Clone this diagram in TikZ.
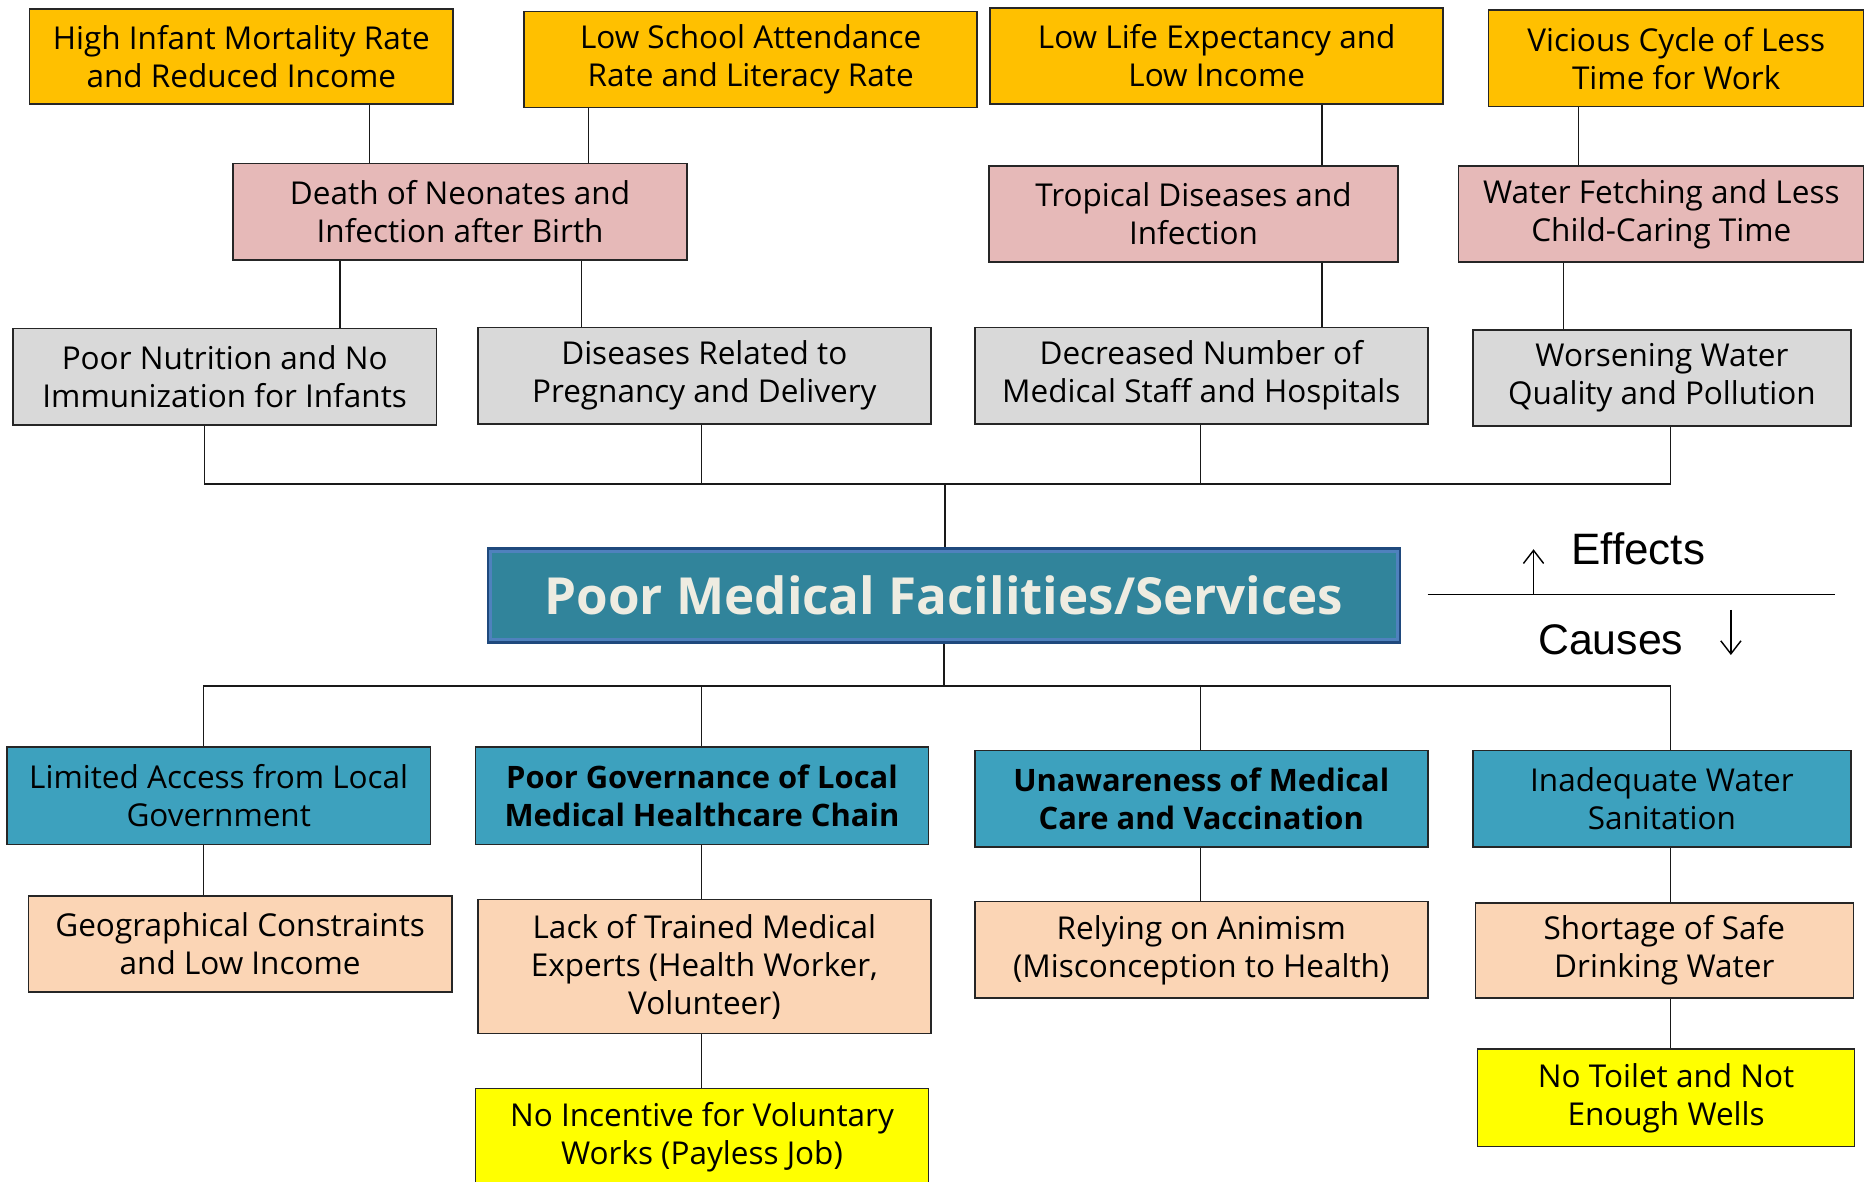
\documentclass[tikz,border=0pt]{standalone}
\usepackage{fontspec}
\setmainfont{Open Sans}
\newfontfamily\legendfont{Liberation Sans}
\usetikzlibrary{arrows.meta}
\definecolor{effOrange}{HTML}{FFC000}
\definecolor{effPink}{HTML}{E6B9B8}
\definecolor{effGray}{HTML}{D9D9D9}
\definecolor{causeBlue}{HTML}{3DA1BE}
\definecolor{causePeach}{HTML}{FBD5B5}
\definecolor{causeYellow}{HTML}{FFFF00}
\definecolor{titleTeal}{HTML}{31849B}
\definecolor{titleEdge}{HTML}{1F497D}
\definecolor{titleInner}{HTML}{4F81BD}
\definecolor{titleText}{HTML}{EEECE1}
\tikzset{
  box/.style={draw=black!85, line width=1.3pt, align=center, inner sep=0pt,
    font=\fontsize{26.5}{32}\selectfont},
  boxsize/.style 2 args={minimum width=#1pt, minimum height=#2pt},
  orangebox/.style={box, fill=effOrange},
  pinkbox/.style={box, fill=effPink},
  graybox/.style={box, fill=effGray},
  bluebox/.style={box, fill=causeBlue},
  peachbox/.style={box, fill=causePeach},
  yellowbox/.style={box, fill=causeYellow},
  link/.style={line width=1.2pt, black!90},
  legendarrow/.style={line width=1.2pt, -{Straight Barb[length=11pt, width=17pt]}},
}

\begin{document}
\begin{tikzpicture}[x=1pt, y=-1pt]
  %%%%% START %%%%%
  \useasboundingbox (0,0) rectangle (1568,994);

  % effects, top row
  \node[orangebox, boxsize={356}{80}] (A1) at (203,47.5) {High Infant Mortality Rate\\and Reduced Income};
  \node[orangebox, boxsize={381}{81}] (A2) at (631.5,50) {Low School Attendance\\Rate and Literacy Rate};
  \node[orangebox, boxsize={381}{81}] (A3) at (1023.5,47) {Low Life Expectancy and\\Low Income};
  \node[orangebox, boxsize={316}{81}] (A4) at (1410,49) {Vicious Cycle of Less\\Time for Work};

  \node[pinkbox, boxsize={382}{81}] (B1) at (387,178) {Death of Neonates and\\Infection after Birth};
  \node[pinkbox, boxsize={344}{81}] (B3) at (1004,180) {Tropical Diseases and\\Infection};
  \node[pinkbox, boxsize={341}{81}] (B4) at (1397.5,180) {Water Fetching and Less\\Child-Caring Time};

  \node[graybox, boxsize={356}{81}] (C1) at (189,317) {Poor Nutrition and No\\Immunization for Infants};
  \node[graybox, boxsize={381}{81}] (C2) at (592.5,316) {Diseases Related to\\Pregnancy and Delivery};
  \node[graybox, boxsize={381}{81}] (C3) at (1010.5,316) {Decreased Number of\\Medical Staff and Hospitals};
  \node[graybox, boxsize={318}{81}] (C4) at (1398,318) {Worsening Water\\Quality and Pollution};

  \draw[link] (311,0 |- A1.south) -- (311,0 |- B1.north);
  \draw[link] (495,0 |- A2.south) -- (495,0 |- B1.north);
  \draw[link] (286,0 |- B1.south) -- (286,0 |- C1.north);
  \draw[link] (489,0 |- B1.south) -- (489,0 |- C2.north);
  \draw[link] (1112,0 |- A3.south) -- (1112,0 |- B3.north);
  \draw[link] (1112,0 |- B3.south) -- (1112,0 |- C3.north);
  \draw[link] (1328,0 |- A4.south) -- (1328,0 |- B4.north);
  \draw[link] (1315,0 |- B4.south) -- (1315,0 |- C4.north);

  % main problem
  \node[draw=titleEdge, line width=3.5pt, fill=titleTeal, boxsize={766}{78},
    font=\fontsize{43}{50}\selectfont\bfseries, text=titleText] (T) at (794,501) {Poor Medical Facilities/Services};
  \draw[titleInner, line width=2.5pt] ([shift={(3.5,3.5)}]T.north west) rectangle ([shift={(-3.5,-3.5)}]T.south east);

  \coordinate (upbus) at (795,407);
  \coordinate (downbus) at (794,577);
  \draw[link] (172,0 |- C1.south) -- (172,0 |- upbus) -- (1405,0 |- upbus) -- (1405,0 |- C4.south);
  \draw[link] (590,0 |- C2.south) -- (590,0 |- upbus);
  \draw[link] (1010,0 |- C3.south) -- (1010,0 |- upbus);
  \draw[link] (upbus) -- (upbus |- T.north);
  \draw[link] (T.south -| downbus) -- (downbus);

  % causes
  \node[bluebox, boxsize={356}{82}] (D1) at (184,669.5) {Limited Access from Local\\Government};
  \node[bluebox, boxsize={381}{82}, font=\fontsize{26}{32}\selectfont\bfseries] (D2) at (590.5,669.5) {Poor Governance of Local\\Medical Healthcare Chain};
  \node[bluebox, boxsize={381}{81}, font=\fontsize{26}{32}\selectfont\bfseries] (D3) at (1010.5,672) {Unawareness of Medical\\Care and Vaccination};
  \node[bluebox, boxsize={318}{81}] (D4) at (1398,672) {Inadequate Water\\Sanitation};

  \node[peachbox, boxsize={356}{81}] (E1) at (202,794) {Geographical Constraints\\and Low Income};
  \node[peachbox, boxsize={381}{113}] (E2) at (592.5,813) {Lack of Trained Medical\\Experts (Health Worker,\\Volunteer)};
  \node[peachbox, boxsize={381}{81}] (E3) at (1010.5,799) {Relying on Animism\\(Misconception to Health)};
  \node[peachbox, boxsize={318}{80}] (E4) at (1400,799.5) {Shortage of Safe\\Drinking Water};

  \node[yellowbox, boxsize={381}{82}] (F2) at (590.5,956.5) {No Incentive for Voluntary\\Works (Payless Job)};
  \node[yellowbox, boxsize={317}{82}] (F4) at (1401.5,923.5) {No Toilet and Not\\Enough Wells};

  \draw[link] (171,0 |- D1.north) -- (171,0 |- downbus) -- (1405,0 |- downbus) -- (1405,0 |- D4.north);
  \draw[link] (590,0 |- D2.north) -- (590,0 |- downbus);
  \draw[link] (1010,0 |- D3.north) -- (1010,0 |- downbus);
  \draw[link] (171,0 |- D1.south) -- (171,0 |- E1.north);
  \draw[link] (590,0 |- D2.south) -- (590,0 |- E2.north);
  \draw[link] (1010,0 |- D3.south) -- (1010,0 |- E3.north);
  \draw[link] (1405,0 |- D4.south) -- (1405,0 |- E4.north);
  \draw[link] (590,0 |- E2.south) -- (590,0 |- F2.north);
  \draw[link] (1405,0 |- E4.south) -- (1405,0 |- F4.north);

  % legend
  \coordinate (legL) at (1201,500);
  \coordinate (legR) at (1544,500);
  \draw[line width=1.2pt] (legL) -- (legR);
  \draw[legendarrow] (1290,500) -- (1290,462);
  \node[font=\legendfont\fontsize{37}{42}\selectfont] (eff) at (1378,462) {Effects};
  \node[font=\legendfont\fontsize{36}{42}\selectfont] (cau) at (1355,538) {Causes};
  \draw[legendarrow] (1456,513) -- (1456,551);
  %%%%% END %%%%%
\end{tikzpicture}
\end{document}
